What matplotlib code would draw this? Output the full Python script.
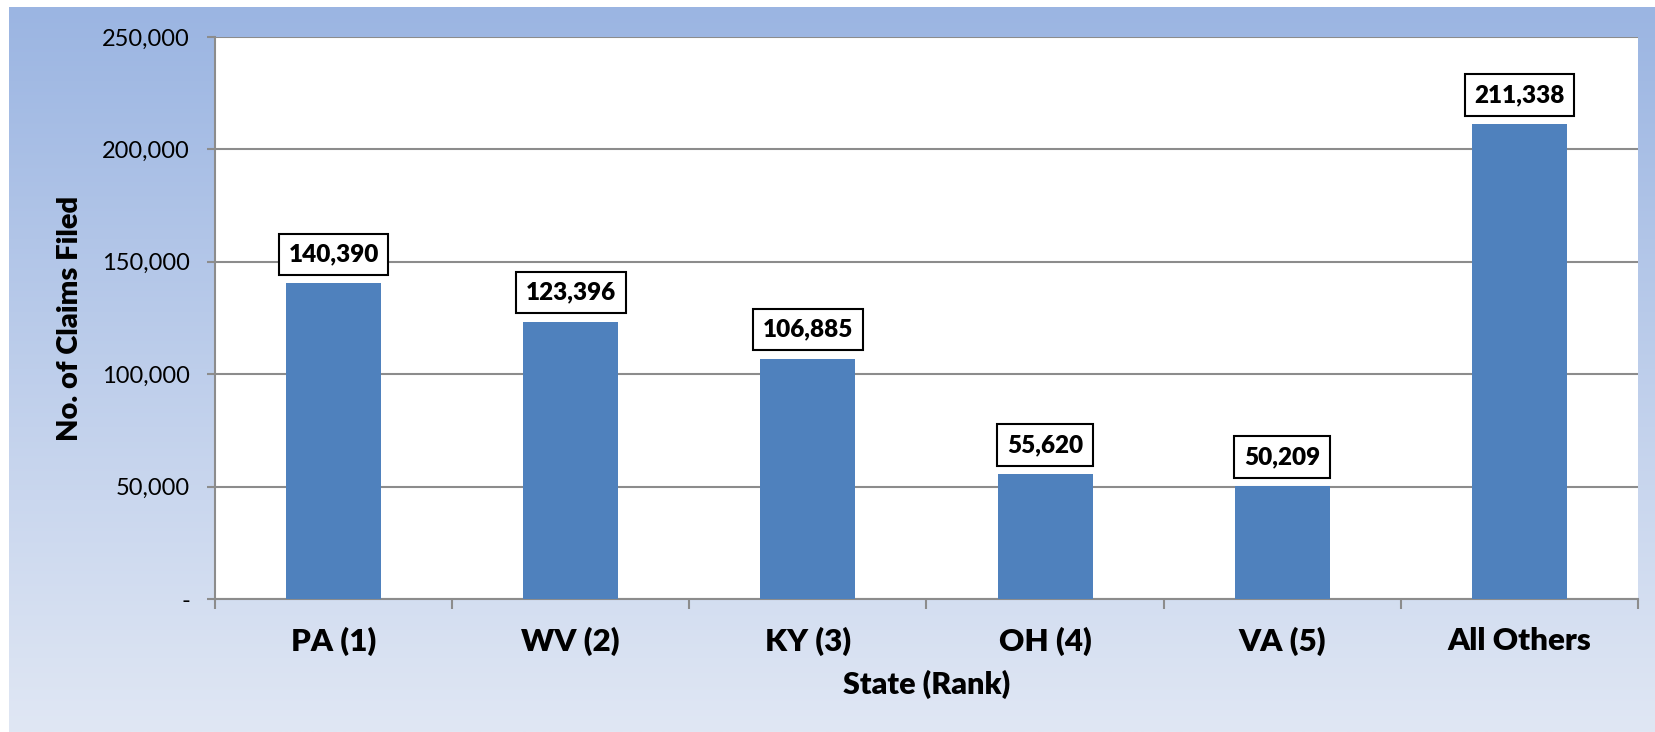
import matplotlib.pyplot as plt
import numpy as np
from matplotlib.ticker import FuncFormatter

states = ['PA (1)', 'WV (2)', 'KY (3)', 'OH (4)', 'VA (5)', 'All Others']
claims = [140390, 123396, 106885, 55620, 50209, 211338]

W, H = 1656, 732
plt.rcParams['font.family'] = ['Lato', 'DejaVu Sans']

fig = plt.figure(figsize=(W / 100, H / 100), dpi=100)
fig.patch.set_facecolor('white')

# gradient background panel
bg = fig.add_axes([9 / W, 0, 1 - 9 / W, 1 - 7 / H])
top = np.array([155, 181, 226]) / 255
bot = np.array([224, 231, 244]) / 255
t = np.linspace(0, 1, 256)[:, None, None]
grad = top * (1 - t) + bot * t
bg.imshow(np.repeat(grad, 2, axis=1), aspect='auto', extent=[0, 1, 0, 1])
bg.set_axis_off()

left, right, top_px, bottom_px = 215, 1638, 37, 599
ax = fig.add_axes([left / W, 1 - bottom_px / H, (right - left) / W, (bottom_px - top_px) / H])
ax.set_facecolor('white')

x = np.arange(len(states))
bars = ax.bar(x, claims, width=0.4, color='#4f81bd', zorder=3)

ax.set_xlim(-0.5, len(states) - 0.5)
ax.set_ylim(0, 250000)
ax.set_yticks(np.arange(0, 250001, 50000))
ax.yaxis.set_major_formatter(FuncFormatter(lambda v, p: '-' if v == 0 else f'{int(v):,}'))
ax.grid(axis='y', color='#8c8c8c', linewidth=1.5, zorder=0)

ax.set_xticks(x)
ax.set_xticklabels(states, fontsize=22.5, fontweight='heavy')
ax.set_xticks(np.arange(-0.5, len(states)), minor=True)
ax.tick_params(axis='x', which='major', length=0, pad=20)
ax.tick_params(axis='x', which='minor', length=7, width=1.5, color='#8c8c8c')
ax.tick_params(axis='y', length=6, width=1.5, color='#8c8c8c', labelsize=17, pad=12)

for s in ['top', 'right']:
    ax.spines[s].set_visible(False)
for s in ['left', 'bottom']:
    ax.spines[s].set_color('#8c8c8c')
    ax.spines[s].set_linewidth(1.5)

for rect, val in zip(bars, claims):
    ax.annotate(f'{val:,}', (rect.get_x() + rect.get_width() / 2, val),
                xytext=(0, 13), textcoords='offset points', ha='center', va='bottom',
                fontsize=17.5, fontweight='heavy', zorder=5,
                bbox=dict(boxstyle='square,pad=0.4', facecolor='white', edgecolor='black', linewidth=1.5))

ax.set_xlabel('State (Rank)', fontsize=22, fontweight='heavy', labelpad=10)
ax.set_ylabel('No. of Claims Filed', fontsize=21, fontweight='heavy', labelpad=14)

fig.savefig('out.png', dpi=100)
